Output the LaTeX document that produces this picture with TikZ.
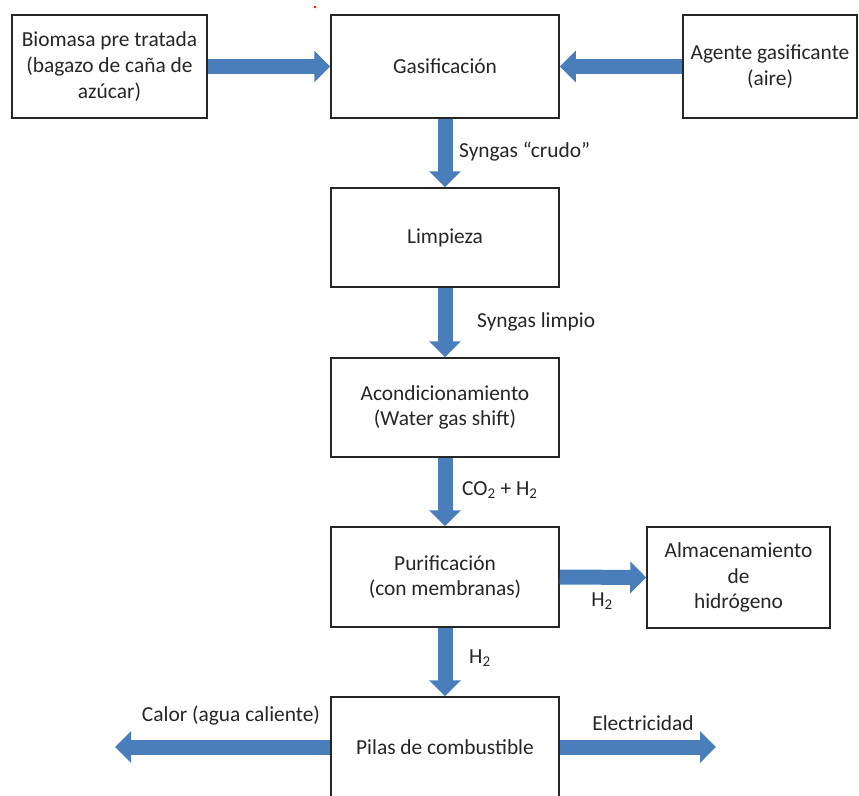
\documentclass[tikz,border=0pt]{standalone}
\usepackage{fontspec}
\setmainfont{Carlito}
\usetikzlibrary{arrows.meta}
\definecolor{flow}{RGB}{74,126,187}
\definecolor{ink}{RGB}{38,38,38}
\begin{document}
\begin{tikzpicture}[x=1pt,y=-1pt,
  font=\fontsize{21.4}{25.8}\selectfont,
  box/.style={draw=ink, line width=1.5pt, align=center, inner sep=0pt, text=ink},
  flowarrow/.style={draw=flow, line width=15pt, -{Triangle[length=16pt,width=31pt]}},
  lbl/.style={text=ink, inner sep=0pt}]
\useasboundingbox (0,0) rectangle (859,795);
\clip (0,0) rectangle (859,795);
\fill[white] (0,0) rectangle (859,795);

\node[box, minimum width=195pt, minimum height=103pt] (bio) at (109.5,66.5) {Biomasa pre tratada\\(bagazo de caña de\\azúcar)};
\node[box, minimum width=228pt, minimum height=103pt] (gas) at (445,66.5) {Gasificación};
\node[box, minimum width=174pt, minimum height=103pt] (age) at (770,66.5) {Agente gasificante\\(aire)};
\node[box, minimum width=228pt, minimum height=99pt] (lim) at (445,237.5) {Limpieza};
\node[box, minimum width=228pt, minimum height=99pt] (aco) at (445,407.5) {Acondicionamiento\\(Water gas shift)};
\node[box, minimum width=228pt, minimum height=100pt] (pur) at (445,577) {Purificación\\(con membranas)};
\node[box, minimum width=183pt, minimum height=101pt] (alm) at (738.5,577.5) {Almacenamiento\\de\\hidrógeno};
\node[box, minimum width=228pt, minimum height=100pt] (pil) at (445,747) {Pilas de combustible};

\coordinate (heat) at (115,747);
\coordinate (elec) at (716,747);

\draw[flowarrow] (bio.east) -- (gas.west);
\draw[flowarrow] (age.west) -- (gas.east);
\draw[flowarrow] (gas.south) -- (lim.north);
\draw[flowarrow] (lim.south) -- (aco.north);
\draw[flowarrow] (aco.south) -- (pur.north);
\draw[flowarrow] (pur.east) -- (alm.west);
\draw[flowarrow] (pur.south) -- (pil.north);
\draw[flowarrow] (pil.west) -- (heat);
\draw[flowarrow] (pil.east) -- (elec);

\node[lbl, anchor=west] (l1) at (459,152) {Syngas “crudo”};
\node[lbl, anchor=west] (l2) at (477,322) {Syngas limpio};
\node[lbl, anchor=west] (l3) at (462,490) {CO\textsubscript{2} + H\textsubscript{2}};
\node[lbl] (l4) at (602,601) {H\textsubscript{2}};
\node[lbl, anchor=west] (l5) at (469,658) {H\textsubscript{2}};
\node[lbl] (l6) at (231,716) {Calor (agua caliente)};
\node[lbl] (l7) at (643,723) {Electricidad};

\fill[red] (315,7) circle (1.4pt);
\end{tikzpicture}
\end{document}
